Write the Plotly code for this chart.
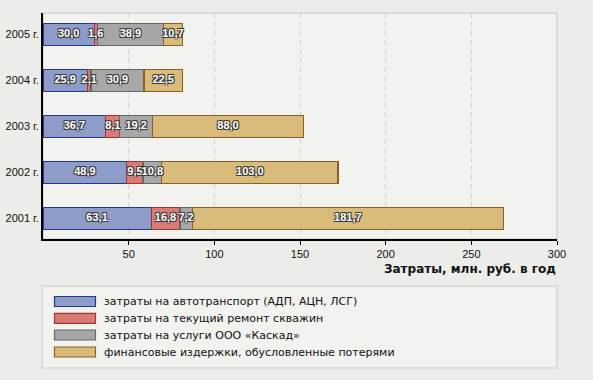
import plotly.graph_objects as go

years = ["2001 г.", "2002 г.", "2003 г.", "2004 г.", "2005 г."]
series_names = [
    "затраты на автотранспорт (АДП, АЦН, ЛСГ)",
    "затраты на текущий ремонт скважин",
    "затраты на услуги ООО «Каскад»",
    "финансовые издержки, обусловленные потерями",
]
transport = [63.1, 48.9, 36.7, 25.9, 30.0]
repair = [16.8, 9.5, 8.1, 2.1, 1.6]
kaskad = [7.2, 10.8, 19.2, 30.9, 38.9]
losses = [181.7, 103.0, 88.0, 22.5, 10.7]
x_ticks = [50, 100, 150, 200, 250, 300]
axis_title = "Затраты, млн. руб. в год"

series = [transport, repair, kaskad, losses]
fills = ["#8E9CC9", "#D87B74", "#A7A7A7", "#D9BC79"]
borders = ["#22388C", "#A2333C", "#666666", "#8A5E2E"]

fig = go.Figure()
for name, vals, fc, bc in zip(series_names, series, fills, borders):
    fig.add_trace(go.Bar(
        y=years, x=vals, name=name, orientation="h",
        marker=dict(color=fc, line=dict(color=bc, width=1.2)),
        width=0.48, showlegend=False, hoverinfo="skip",
    ))

# centred value labels
shadow = "-1px -1px 0 #3a3a3a, 1px -1px 0 #3a3a3a, -1px 1px 0 #3a3a3a, 1px 1px 0 #3a3a3a"
base = [0.0] * len(years)
for vals in series:
    mids = [b + v / 2 for b, v in zip(base, vals)]
    fig.add_trace(go.Scatter(
        x=mids, y=years, mode="text",
        text=[f"{v:.1f}".replace(".", ",") for v in vals],
        textposition="middle center",
        textfont=dict(family="Liberation Sans", size=11, color="white",
                      weight="bold", shadow=shadow),
        showlegend=False, hoverinfo="skip",
    ))
    base = [b + v for b, v in zip(base, vals)]

# plot panel border
shapes = [dict(type="rect", xref="paper", yref="paper", x0=0, x1=1, y0=0, y1=1,
               line=dict(color="#D4D4D0", width=1.5), fillcolor="rgba(0,0,0,0)", layer="below")]

# manual legend
H = 226.0
def py(ypix):
    return (239 - ypix) / H
def px(xpix):
    return (xpix - 43) / 514.0

shapes.append(dict(type="rect", xref="paper", yref="paper",
                   x0=px(42), x1=px(557), y0=py(368), y1=py(286),
                   line=dict(color="#D6D6D2", width=1.5), fillcolor="#F2F2EE", layer="below"))
annotations = []
centers = [301.5, 318.3, 335, 352]
for name, fc, bc, cy in zip(series_names, fills, borders, centers):
    shapes.append(dict(type="rect", xref="paper", yref="paper",
                       x0=px(54.5), x1=px(95.5), y0=py(cy + 5), y1=py(cy - 5),
                       line=dict(color=bc, width=1.2), fillcolor=fc))
    annotations.append(dict(xref="paper", yref="paper", x=px(102), y=py(cy),
                            xanchor="left", yanchor="middle", text=name, showarrow=False,
                            font=dict(family="DejaVu Sans", size=11, color="#111111")))

annotations.append(dict(xref="paper", yref="paper", x=1.002, y=py(269),
                        xanchor="right", yanchor="middle", text=f"<b>{axis_title}</b>",
                        showarrow=False,
                        font=dict(family="DejaVu Sans", size=12, color="#111111")))

fig.update_layout(
    width=593, height=380,
    margin=dict(l=43, r=36, t=13, b=141, autoexpand=False),
    paper_bgcolor="#ECECE8", plot_bgcolor="#F2F2EE",
    barmode="stack", bargap=0.5,
    showlegend=False,
    shapes=shapes, annotations=annotations,
    separators=", ",
    font=dict(family="Liberation Sans", size=11, color="#111111"),
)
fig.update_xaxes(
    range=[0, 300], tickvals=x_ticks, ticktext=[str(t) for t in x_ticks],
    showgrid=True, gridcolor="#D2D2CE", griddash="5px,4px", gridwidth=1,
    showline=True, linecolor="#000000", linewidth=2,
    ticks="outside", ticklen=4, tickcolor="#000000", tickwidth=1,
    zeroline=False, fixedrange=True, automargin=False,
    tickfont=dict(family="Liberation Sans", size=11, color="#111111"),
)
fig.update_yaxes(
    type="category", categoryorder="array", categoryarray=years,
    range=[-0.45, 4.47],
    showgrid=False, showline=True, linecolor="#000000", linewidth=2,
    ticks="", zeroline=False, fixedrange=True, automargin=False,
    tickfont=dict(family="Liberation Sans", size=11, color="#111111"),
)

fig.write_html(
    "out.html",
    config={"displayModeBar": False},
    post_script="document.body.style.margin='0px';document.body.style.background='#ECECE8';",
)
